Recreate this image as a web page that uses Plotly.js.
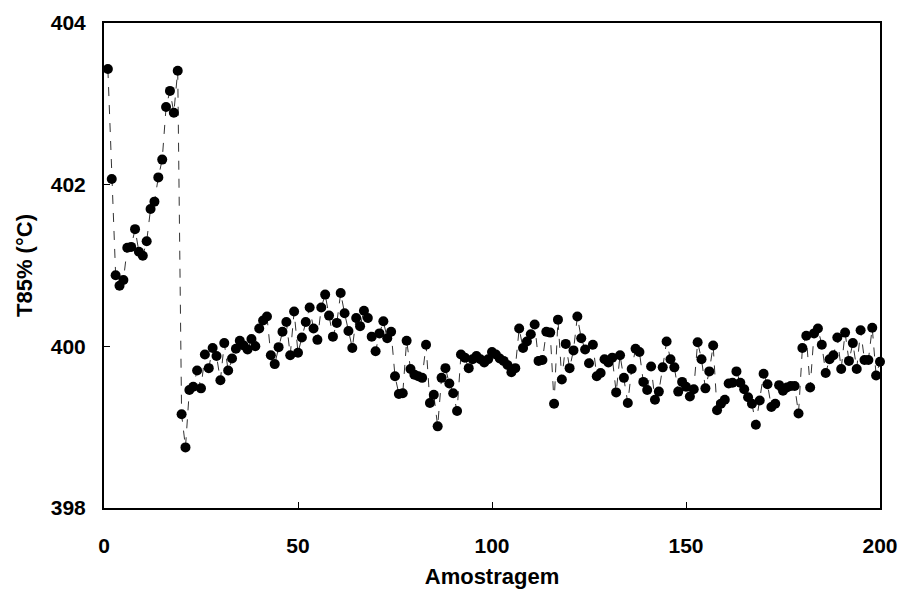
<!DOCTYPE html>
<html>
<head>
<meta charset="utf-8">
<script src="https://cdn.plot.ly/plotly-3.0.1.min.js"></script>
<style>html,body{margin:0;padding:0;background:#fff;}#chart{width:901px;height:592px;}</style>
</head>
<body>
<div id="chart"></div>
<script>
const amostra = Array.from({length: 200}, (_, i) => i + 1);
const t85 = [
  403.43, 402.07, 400.88, 400.75, 400.82, 401.22, 401.23, 401.45, 401.17, 401.12,
  401.30, 401.70, 401.79, 402.09, 402.31, 402.96, 403.16, 402.89, 403.41, 399.16,
  398.75, 399.46, 399.50, 399.70, 399.48, 399.90, 399.73, 399.98, 399.88, 399.58,
  400.04, 399.70, 399.85, 399.97, 400.07, 400.01, 399.96, 400.09, 400.00, 400.22,
  400.32, 400.37, 399.89, 399.78, 399.99, 400.18, 400.30, 399.89, 400.43, 399.92,
  400.11, 400.30, 400.48, 400.22, 400.08, 400.48, 400.64, 400.38, 400.12, 400.29,
  400.66, 400.41, 400.19, 399.98, 400.35, 400.25, 400.44, 400.35, 400.12, 399.94,
  400.16, 400.31, 400.10, 400.18, 399.63, 399.41, 399.42, 400.07, 399.72, 399.65,
  399.63, 399.61, 400.02, 399.30, 399.40, 399.01, 399.61, 399.73, 399.54, 399.42,
  399.20, 399.90, 399.86, 399.73, 399.84, 399.88, 399.84, 399.80, 399.84, 399.93,
  399.90, 399.85, 399.82, 399.77, 399.68, 399.73, 400.22, 399.98, 400.06, 400.15,
  400.27, 399.82, 399.83, 400.18, 400.17, 399.29, 400.33, 399.59, 400.03, 399.73,
  399.95, 400.37, 400.10, 399.96, 399.79, 400.02, 399.63, 399.67, 399.84, 399.80,
  399.86, 399.43, 399.89, 399.61, 399.30, 399.72, 399.97, 399.93, 399.56, 399.46,
  399.75, 399.34, 399.44, 399.74, 400.06, 399.84, 399.74, 399.44, 399.56, 399.50,
  399.38, 399.47, 400.05, 399.84, 399.48, 399.69, 400.01, 399.21, 399.29, 399.34,
  399.54, 399.55, 399.69, 399.55, 399.47, 399.37, 399.29, 399.03, 399.33, 399.66,
  399.53, 399.25, 399.29, 399.52, 399.45, 399.49, 399.51, 399.51, 399.17, 399.98,
  400.13, 399.49, 400.16, 400.22, 400.02, 399.67, 399.84, 399.89, 400.11, 399.72,
  400.17, 399.82, 400.04, 399.72, 400.20, 399.83, 399.83, 400.23, 399.64, 399.81
];
const xTicks = [0, 50, 100, 150, 200];
const yTicks = [398, 400, 402, 404];

const trace = {
  x: amostra,
  y: t85,
  type: 'scatter',
  mode: 'lines+markers',
  line: {color: '#333333', width: 1, dash: 'dash'},
  marker: {color: '#000000', size: 10, symbol: 'circle'},
  showlegend: false,
  cliponaxis: false
};

const tickFont = {family: '"Liberation Sans", Arial, sans-serif', size: 21, color: '#000', weight: 'bold'};
const titleFont = {family: '"Liberation Sans", Arial, sans-serif', size: 22, color: '#000', weight: 'bold'};

const layout = {
  width: 901,
  height: 592,
  margin: {l: 104, r: 21, t: 23, b: 84},
  paper_bgcolor: '#ffffff',
  plot_bgcolor: '#ffffff',
  xaxis: {
    range: [0, 200],
    tickvals: xTicks,
    ticktext: xTicks.map(String),
    ticks: 'inside',
    ticklen: 6,
    tickwidth: 1,
    tickcolor: '#000',
    ticklabelstandoff: 18,
    showgrid: false,
    zeroline: false,
    showline: true,
    linecolor: '#000',
    linewidth: 2,
    mirror: true,
    tickfont: tickFont,
    title: {text: 'Amostragem', font: titleFont, standoff: 12}
  },
  yaxis: {
    range: [398, 404],
    tickvals: yTicks,
    ticktext: yTicks.map(String),
    ticks: 'inside',
    ticklen: 6,
    tickwidth: 1,
    tickcolor: '#000',
    ticklabelstandoff: 12,
    showgrid: false,
    zeroline: false,
    showline: true,
    linecolor: '#000',
    linewidth: 2,
    mirror: true,
    tickfont: tickFont,
    title: {text: 'T85% (°C)', font: titleFont, standoff: 12}
  }
};

Plotly.newPlot('chart', [trace], layout, {displayModeBar: false, staticPlot: true});
</script>
</body>
</html>
